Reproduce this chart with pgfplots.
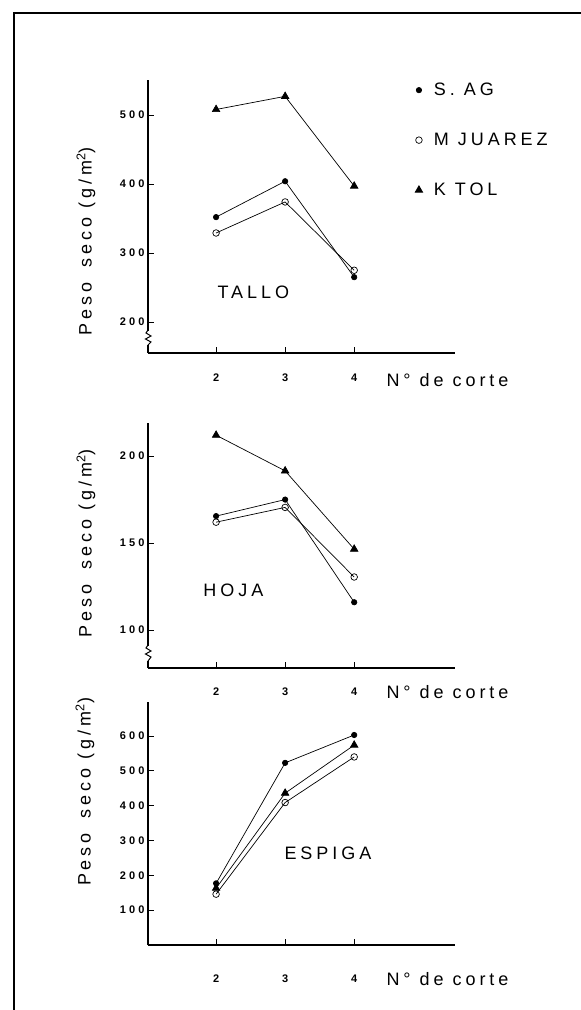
\documentclass[border=0pt]{standalone}
\usepackage{fontspec}
\setmainfont{Liberation Sans}
\newfontfamily\lblfont[LetterSpace=22]{Liberation Sans}
\newfontfamily\tkfont[LetterSpace=28]{Liberation Sans}
\usepackage{pgfplots}
\pgfplotsset{compat=1.18}

\pgfplotsset{
  panel/.style={
    scale only axis, width=307pt,
    axis x line*=bottom, axis y line*=left,
    axis line style={line width=1.2pt,-},
    tick align=inside, major tick length=6pt,
    tick style={line width=0.8pt, black},
    xmin=1.014, xmax=5.46,
    xtick={2,3,4},
    /pgf/number format/assume math mode=true,
    xticklabel style={anchor=center, font=\tkfont\bfseries\fontsize{11}{12}\selectfont},
    yticklabel style={font=\tkfont\bfseries\fontsize{11}{12}\selectfont},
    clip=false,
    xlabel={N° de corte},
    xlabel style={anchor=west, font=\lblfont\fontsize{18}{21}\selectfont},
    ylabel={Peso\hspace{6pt} seco (g/m\textsuperscript{2})},
    ylabel style={anchor=center, font=\lblfont\fontsize{18}{21}\selectfont},
    every axis plot/.append style={line width=0.7pt, black},
  },
  sag/.style={mark=*, mark size=2.7pt, mark options={fill=black}},
  mju/.style={mark=o, mark size=3.3pt, mark options={fill=white}},
  ktol/.style={mark=triangle*, mark size=4.3pt, mark options={fill=black}},
}

\begin{document}
\begin{tikzpicture}
\useasboundingbox (0pt,0pt) rectangle (581pt,-1010pt);
\draw[line width=1.5pt] (14pt,-1010pt) -- (14pt,-13pt) -- (581pt,-13pt);

% ---------- TALLO ----------
\begin{axis}[panel, at={(148pt,-353pt)}, anchor=south west, height=273pt,
  ymin=155.1, ymax=550.7, ytick={200,300,400,500},
  xticklabel style={yshift=-25pt},
  xlabel style={at={(axis description cs:0.7655,-0.099)}},
  ylabel style={at={(axis description cs:-0.202,0.41)}},
  legend style={draw=none, fill=none, at={(axis description cs:0.86,1.004)}, anchor=north west,
    font=\lblfont\fontsize{18}{21}\selectfont, row sep=32pt},
  legend cell align=left,
  legend image code/.code={\draw[#1] plot[only marks] coordinates {(0pt,0pt)}; \path[draw=none,fill=none] (0pt,0pt) -- (13pt,0pt);},
]
\addplot[sag] coordinates {(2,352) (3,404) (4,265)};
\addlegendentry{S. AG}
\addplot[mju] coordinates {(2,329) (3,374) (4,275)};
\addlegendentry{M JUAREZ}
\addplot[ktol] coordinates {(2,508) (3,527) (4,397)};
\addlegendentry{K TOL}
\node[font=\lblfont\fontsize{18}{21}\selectfont] at (axis cs:2.54,243) {TALLO};
\end{axis}

% ---------- HOJA ----------
\begin{axis}[panel, at={(148pt,-668pt)}, anchor=south west, height=245pt,
  ymin=78.2, ymax=219, ytick={100,150,200},
  xticklabel style={yshift=-24pt},
  xlabel style={at={(axis description cs:0.7655,-0.098)}},
  ylabel style={at={(axis description cs:-0.202,0.51)}},
]
\addplot[sag] coordinates {(2,165.5) (3,175) (4,116)};
\addplot[mju] coordinates {(2,162) (3,170.5) (4,130.5)};
\addplot[ktol] coordinates {(2,212) (3,191.5) (4,146.5)};
\node[font=\lblfont\fontsize{18}{21}\selectfont] at (axis cs:2.25,123) {HOJA};
\end{axis}

% ---------- ESPIGA ----------
\begin{axis}[panel, at={(148pt,-945pt)}, anchor=south west, height=243pt,
  ymin=0, ymax=697.7, ytick={100,200,300,400,500,600},
  xticklabel style={yshift=-34pt},
  xlabel style={at={(axis description cs:0.7655,-0.14)}},
  ylabel style={at={(axis description cs:-0.205,0.63)}},
]
\addplot[sag] coordinates {(2,177) (3,523) (4,603)};
\addplot[mju] coordinates {(2,146) (3,409) (4,540)};
\addplot[ktol] coordinates {(2,163) (3,436) (4,574)};
\node[font=\lblfont\fontsize{18}{21}\selectfont] at (axis cs:3.62,263) {ESPIGA};
\end{axis}

% axis breaks
\fill[white] (144pt,-331pt) rectangle (152pt,-345pt);
\draw[line width=1pt] (148pt,-330pt) -- (146pt,-333pt) -- (151pt,-336pt) -- (145.5pt,-339pt) -- (151pt,-342pt) -- (148pt,-345pt);
\fill[white] (144pt,-646pt) rectangle (152pt,-661pt);
\draw[line width=1pt] (148pt,-645pt) -- (146pt,-648pt) -- (151pt,-651pt) -- (145.5pt,-654pt) -- (151pt,-657pt) -- (148pt,-661pt);
\end{tikzpicture}
\end{document}
